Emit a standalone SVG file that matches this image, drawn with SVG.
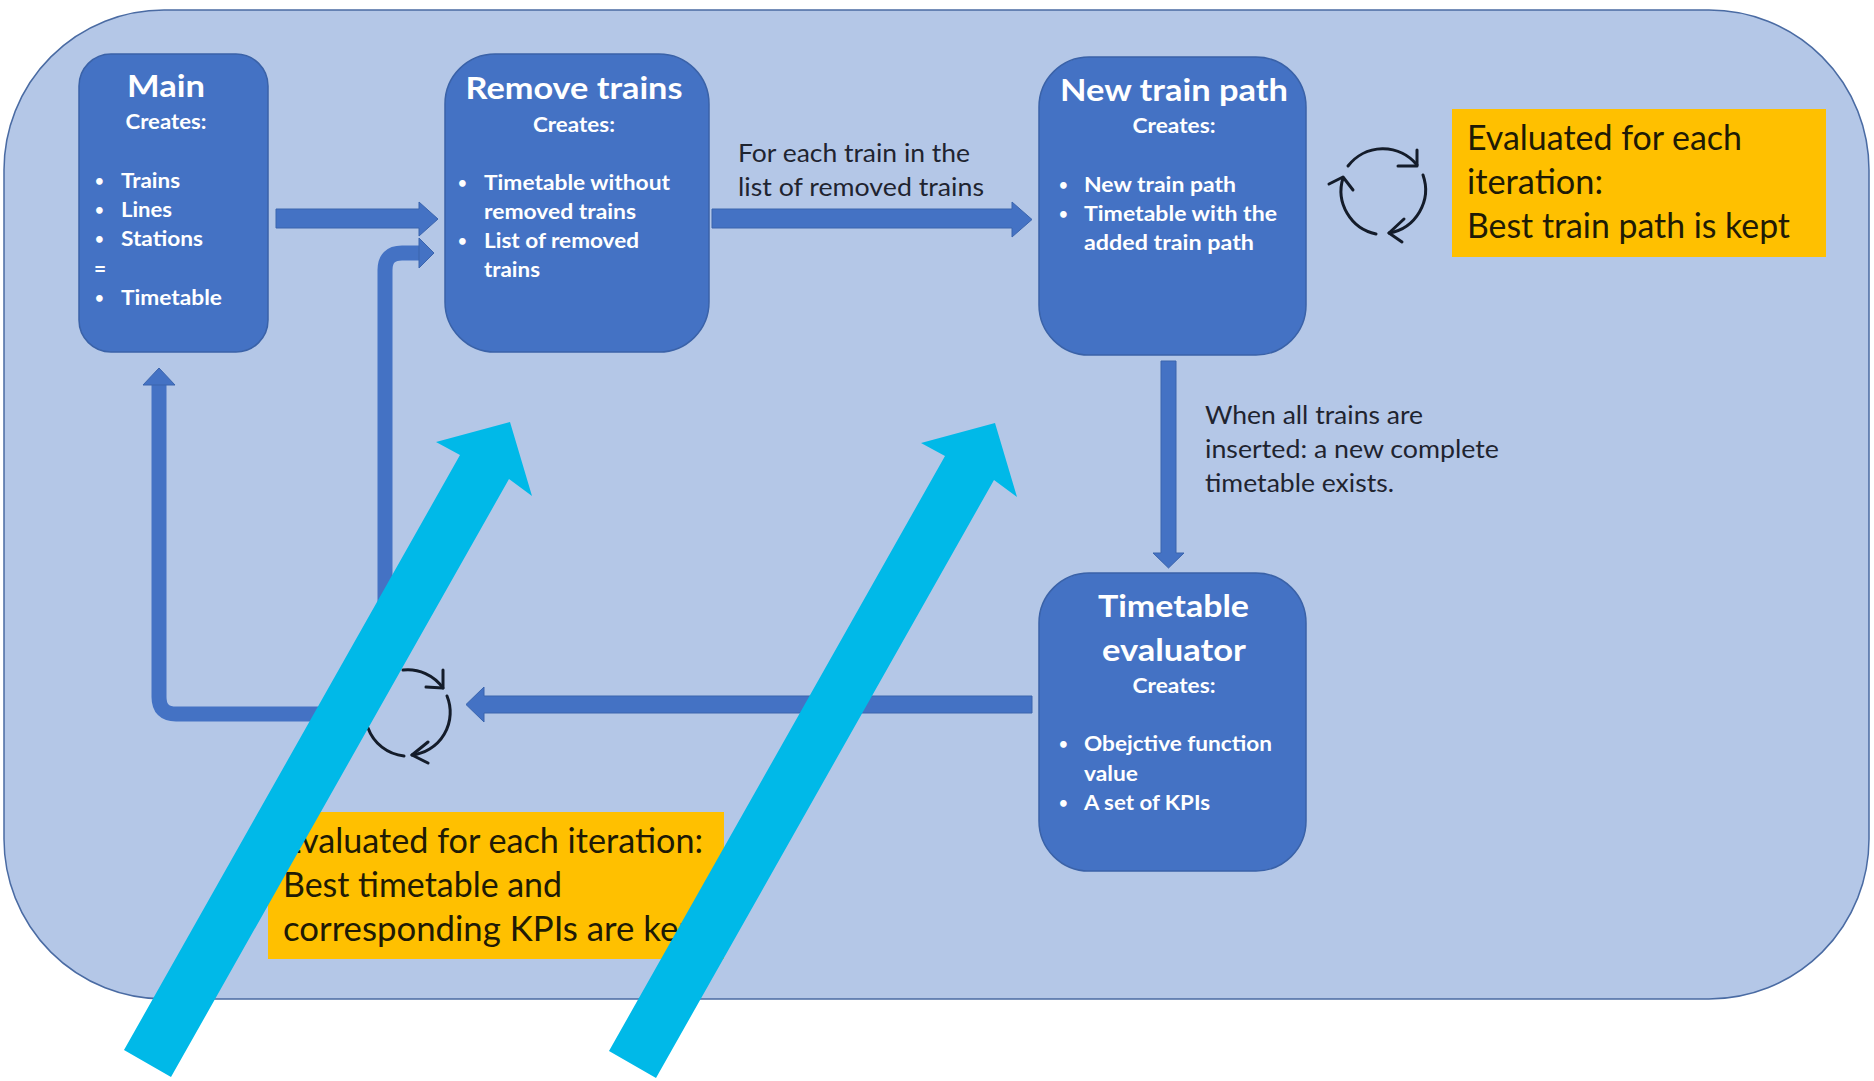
<svg xmlns="http://www.w3.org/2000/svg" width="1874" height="1081" viewBox="0 0 1874 1081">
<defs>
<style>
text{font-family:"Lato","Carlito","Liberation Sans",sans-serif}
.node{fill:#4472c4;stroke:#3a62a8;stroke-width:1.5}
.t{fill:#fff;font-weight:700;font-size:31px;text-anchor:middle}
.c{fill:#fff;font-weight:700;font-size:21px;text-anchor:middle}
.b{fill:#fff;font-weight:700;font-size:21px}
.d{fill:#fff;font-weight:700;font-size:15px}
.l{fill:#1f2430;font-size:25px}
.y{fill:#201a05;font-size:35px}
.note{fill:#ffc000}
.arr{fill:#4472c4;stroke:#3a64ad;stroke-width:1}
.bend{fill:none;stroke:#4472c4;stroke-width:15}
.cyc{fill:none;stroke:#141c2a;stroke-width:3;stroke-linecap:round;stroke-linejoin:round}
.cyan{fill:#00b9e8}
</style>
</defs>
<rect width="1874" height="1081" fill="#fff"/>
<rect id="frame" x="4" y="10" width="1865" height="989" rx="160" ry="160" fill="#b4c7e7" stroke="#4a6ba3" stroke-width="1.5"/>

<g id="connectors">
<polygon class="arr" points="276,209 419,209 419,202 438,219 419,236 419,228 276,228"/>
<polygon class="arr" points="712,209 1012,209 1012,202 1032,219.500 1012,237 1012,228 712,228"/>
<polygon class="arr" points="1161,361 1176,361 1176,553 1184,553 1168.500,568 1153,553 1161,553"/>
<polygon class="arr" points="1032,696 484,696 484,687 466,704.500 484,722 484,713 1032,713"/>
<path class="bend" d="M340,714 L176,714 Q159,714 159,697 L159,384"/>
<polygon class="arr" points="159,368 175,385 143,385"/>
<path class="bend" d="M385,640 L385,270 Q385,253 402,253 L421,253"/>
<polygon class="arr" points="434,253 419,268 419,238"/>
</g>

<g id="node-main">
<rect class="node" x="79" y="54" width="189" height="298" rx="32"/>
<text class="t" x="166" y="97" textLength="78" lengthAdjust="spacingAndGlyphs">Main</text>
<text class="c" x="166" y="129" textLength="81" lengthAdjust="spacingAndGlyphs">Creates:</text>
<text class="d" x="95" y="186">•</text><text class="b" x="121" y="188" textLength="59" lengthAdjust="spacingAndGlyphs">Trains</text>
<text class="d" x="95" y="215">•</text><text class="b" x="121" y="217" textLength="51" lengthAdjust="spacingAndGlyphs">Lines</text>
<text class="d" x="95" y="244">•</text><text class="b" x="121" y="246" textLength="82" lengthAdjust="spacingAndGlyphs">Stations</text>
<text class="b" x="94" y="276">=</text>
<text class="d" x="95" y="303">•</text><text class="b" x="121" y="305" textLength="101" lengthAdjust="spacingAndGlyphs">Timetable</text>
</g>

<g id="node-remove-trains">
<rect class="node" x="445" y="54" width="264" height="298" rx="50"/>
<text class="t" x="574" y="99" textLength="217" lengthAdjust="spacingAndGlyphs">Remove trains</text>
<text class="c" x="574" y="132" textLength="82" lengthAdjust="spacingAndGlyphs">Creates:</text>
<text class="d" x="458" y="188">•</text><text class="b" x="484" y="190" textLength="186" lengthAdjust="spacingAndGlyphs">Timetable without</text>
<text class="b" x="484" y="219" textLength="152" lengthAdjust="spacingAndGlyphs">removed trains</text>
<text class="d" x="458" y="246">•</text><text class="b" x="484" y="248" textLength="155" lengthAdjust="spacingAndGlyphs">List of removed</text>
<text class="b" x="484" y="277" textLength="56" lengthAdjust="spacingAndGlyphs">trains</text>
</g>

<g id="node-new-train-path">
<rect class="node" x="1039" y="57" width="267" height="298" rx="50"/>
<text class="t" x="1174" y="101" textLength="228" lengthAdjust="spacingAndGlyphs">New train path</text>
<text class="c" x="1174" y="133" textLength="83" lengthAdjust="spacingAndGlyphs">Creates:</text>
<text class="d" x="1059" y="190">•</text><text class="b" x="1084" y="192" textLength="152" lengthAdjust="spacingAndGlyphs">New train path</text>
<text class="d" x="1059" y="219">•</text><text class="b" x="1084" y="221" textLength="193" lengthAdjust="spacingAndGlyphs">Timetable with the</text>
<text class="b" x="1084" y="250" textLength="170" lengthAdjust="spacingAndGlyphs">added train path</text>
</g>

<g id="node-timetable-evaluator">
<rect class="node" x="1039" y="573" width="267" height="298" rx="50"/>
<text class="t" x="1173.500" y="617" textLength="151" lengthAdjust="spacingAndGlyphs">Timetable</text>
<text class="t" x="1174" y="661" textLength="144" lengthAdjust="spacingAndGlyphs">evaluator</text>
<text class="c" x="1174" y="693" textLength="83" lengthAdjust="spacingAndGlyphs">Creates:</text>
<text class="d" x="1059" y="749">•</text><text class="b" x="1084" y="751" textLength="188" lengthAdjust="spacingAndGlyphs">Obejctive function</text>
<text class="b" x="1084" y="781" textLength="54" lengthAdjust="spacingAndGlyphs">value</text>
<text class="d" x="1059" y="808">•</text><text class="b" x="1084" y="810" textLength="126" lengthAdjust="spacingAndGlyphs">A set of KPIs</text>
</g>

<g id="label-each-train">
<text class="l" x="738" y="162" textLength="232" lengthAdjust="spacingAndGlyphs">For each train in the</text>
<text class="l" x="738" y="196" textLength="246" lengthAdjust="spacingAndGlyphs">list of removed trains</text>
</g>
<g id="label-all-inserted">
<text class="l" x="1205" y="424" textLength="218" lengthAdjust="spacingAndGlyphs">When all trains are</text>
<text class="l" x="1205" y="458" textLength="294" lengthAdjust="spacingAndGlyphs">inserted: a new complete</text>
<text class="l" x="1205" y="492" textLength="189" lengthAdjust="spacingAndGlyphs">timetable exists.</text>
</g>

<g id="note-train-path">
<rect class="note" x="1452" y="109" width="374" height="148"/>
<text class="y" x="1467" y="150" textLength="275" lengthAdjust="spacingAndGlyphs">Evaluated for each</text>
<text class="y" x="1467" y="194" textLength="136" lengthAdjust="spacingAndGlyphs">iteration:</text>
<text class="y" x="1467" y="238" textLength="323" lengthAdjust="spacingAndGlyphs">Best train path is kept</text>
</g>

<g id="note-timetable">
<rect class="note" x="268" y="812" width="456" height="147"/>
<text class="y" x="282" y="853" textLength="421" lengthAdjust="spacingAndGlyphs">Evaluated for each iteration:</text>
<text class="y" x="283" y="897" textLength="279" lengthAdjust="spacingAndGlyphs">Best timetable and</text>
<text class="y" x="283" y="941" textLength="427" lengthAdjust="spacingAndGlyphs">corresponding KPIs are kept</text>
</g>

<g id="cycle-right">
<path class="cyc" d="M1348,166 A44,44 0 0 1 1417,165"/>
<path class="cyc" d="M1398,166 L1417,166 L1417,150"/>
<path class="cyc" d="M1423,175 A44,44 0 0 1 1389,233"/>
<path class="cyc" d="M1404,219 L1389,233 L1402,242"/>
<path class="cyc" d="M1376,234 A44,44 0 0 1 1343,178"/>
<path class="cyc" d="M1329,184 L1343,177 L1353,190"/>
</g>

<g id="cycle-left">
<path class="cyc" d="M403,670 A43,43 0 0 1 443,688"/>
<path class="cyc" d="M426,687 L443,688 L443,670"/>
<path class="cyc" d="M447,696 A43,43 0 0 1 412,755"/>
<path class="cyc" d="M428,742 L412,755 L428,763"/>
<path class="cyc" d="M404,756 A43,43 0 0 1 368,728"/>
</g>

<g id="callouts">
<polygon class="cyan" points="124,1050 171,1077 509,479 532,496 510,422 436,442 460,455"/>
<polygon class="cyan" points="609,1051 656,1078 994,480 1017,497 995,423 921,443 945,456"/>
</g>
</svg>
